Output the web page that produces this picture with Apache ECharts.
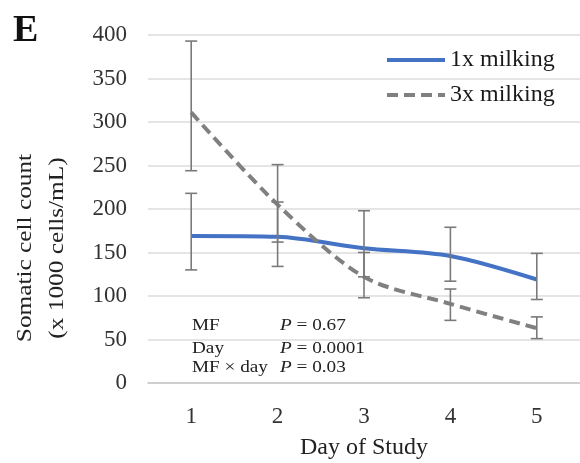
<!DOCTYPE html>
<html><head><meta charset="utf-8">
<script src="https://cdn.jsdelivr.net/npm/echarts@6/dist/echarts.min.js"></script>
<style>html,body{margin:0;padding:0;background:#fff}#c{width:580px;height:463px}</style>
</head><body><div id="c"></div>
<script>
var days = ['1','2','3','4','5'];
var once = [169, 168, 155, 146, 119];
var onceLow = [130, 134, 122, 117, 96];
var onceHigh = [218, 208, 198, 179, 149];
var thrice = [311, 205, 122, 91, 63];
var thriceLow = [244, 162, 98, 72, 51];
var thriceHigh = [393, 251, 150, 108, 76];
var yTicks = [0, 50, 100, 150, 200, 250, 300, 350, 400];

var serif = '"Liberation Serif","Times New Roman",serif';
var chart = echarts.init(document.getElementById('c'));

function errSeries(name, low, high) {
  var data = days.map(function (d, i) { return [i, low[i], high[i]]; });
  return {
    type: 'custom', name: name + ' err', z: 5, silent: true,
    renderItem: function (params, api) {
      var x = api.value(0);
      var lo = api.coord([x, api.value(1)]);
      var hi = api.coord([x, api.value(2)]);
      var w = 6;
      var st = { stroke: '#7a7a7a', lineWidth: 1.6 };
      return { type: 'group', children: [
        { type: 'line', shape: { x1: lo[0], y1: lo[1], x2: hi[0], y2: hi[1] }, style: st },
        { type: 'line', shape: { x1: lo[0] - w, y1: lo[1], x2: lo[0] + w, y2: lo[1] }, style: st },
        { type: 'line', shape: { x1: hi[0] - w, y1: hi[1], x2: hi[0] + w, y2: hi[1] }, style: st }
      ]};
    },
    data: data
  };
}

function ann(txt, x, y) {
  return { type: 'text', x: x, y: y, scaleX: 1.2, style: { text: txt, font: '16px ' + serif, fill: '#222',
    verticalAlign: 'top', rich: { i: { fontStyle: 'italic', fontFamily: serif, fontSize: 16 } } } };
}

chart.setOption({
  animation: false,
  grid: { left: 148, right: 0, top: 35, bottom: 80, outerBoundsMode: 'none', containLabel: false },
  legend: {
    orient: 'vertical', left: 385, top: 48, padding: 0, itemWidth: 58, itemHeight: 14, itemGap: 11,
    data: ['1x milking', '3x milking'],
    itemStyle: { opacity: 0 },
    lineStyle: { width: 4 },
    textStyle: { fontFamily: serif, fontSize: 24, color: '#1a1a1a' }
  },
  xAxis: {
    type: 'category', data: days,
    axisLine: { lineStyle: { color: '#c8c8c8', width: 1.5 } },
    axisTick: { show: false },
    axisLabel: { fontFamily: serif, fontSize: 23, color: '#333', margin: 22 },
    name: 'Day of Study', nameLocation: 'middle', nameGap: 53,
    nameTextStyle: { fontFamily: serif, fontSize: 24, color: '#222' }
  },
  yAxis: {
    type: 'value', min: 0, max: 400, interval: 50,
    axisLine: { show: false }, axisTick: { show: false },
    splitLine: { lineStyle: { color: '#dcdcdc', width: 1.5 } },
    axisLabel: { fontFamily: serif, fontSize: 23, color: '#333', margin: 21,
      formatter: function (v) { return yTicks.indexOf(v) >= 0 ? String(v) : ''; } }
  },
  graphic: [
    { type: 'text', left: 13, top: 12, style: { text: 'E', font: 'bold 38px ' + serif, fill: '#111' } },
    { type: 'text', x: 41, y: 248, rotation: Math.PI / 2, scaleX: 1.15, style: {
        text: 'Somatic cell count\n(x 1000 cells/mL)', font: '22px ' + serif, fill: '#222',
        align: 'center', verticalAlign: 'middle', lineHeight: 32 } },
    ann('MF', 192, 318),
    ann('Day', 192, 341),
    ann('MF × day', 192, 360),
    ann('{i|P} = 0.67', 280, 318),
    ann('{i|P} = 0.0001', 280, 341),
    ann('{i|P} = 0.03', 280, 360)
  ],
  series: [
    { name: '1x milking', type: 'line', data: once, smooth: 0.3, symbol: 'none', z: 3,
      lineStyle: { color: '#4472C4', width: 4 }, itemStyle: { color: '#4472C4' } },
    { name: '3x milking', type: 'line', data: thrice, smooth: 0.3, symbol: 'none', z: 3,
      lineStyle: { color: '#808080', width: 4, type: [11, 6] }, itemStyle: { color: '#808080' } },
    errSeries('1x', onceLow, onceHigh),
    errSeries('3x', thriceLow, thriceHigh)
  ]
});
</script></body></html>
